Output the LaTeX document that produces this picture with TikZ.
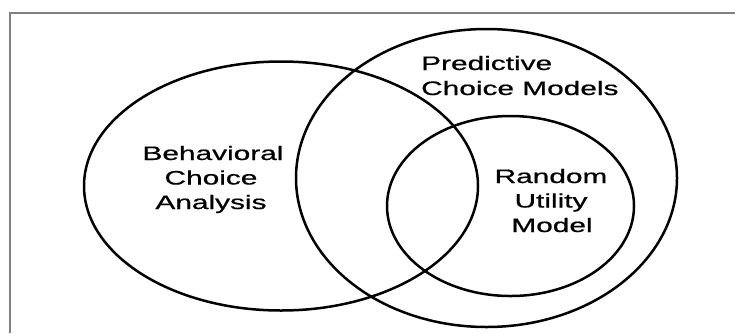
\documentclass[tikz,border=0pt]{standalone}
\usepackage{graphicx}
\usepackage{fontspec}
\setmainfont{Liberation Sans}
\newfontfamily\lblfont{Liberation Sans}[FakeBold=0.6]
\newcommand{\wtxt}[1]{\scalebox{1.53}[1]{#1}}
\begin{document}
\begin{tikzpicture}[x=1pt,y=-1pt,
  venn/.style={line width=2.5pt,draw=black},
  frameline/.style={line width=1.8pt,draw=black!50},
  lbl/.style={inner sep=0pt,anchor=base,font=\lblfont\fontsize{19.5}{24}\selectfont},
  lblw/.style={inner sep=0pt,anchor=base west,font=\lblfont\fontsize{19.5}{24}\selectfont}]
\useasboundingbox (0,0) rectangle (735,333);
% frame
\coordinate (ftr) at (735,13);
\coordinate (ftl) at (10,13);
\coordinate (fbl) at (10,333);
\draw[frameline] (ftr) -- (ftl) -- (fbl);
% ellipses
\draw[venn] (281,186) ellipse [x radius=197pt, y radius=124.5pt];
\draw[venn] (486.5,178) ellipse [x radius=190.5pt, y radius=149pt];
\draw[venn] (510.5,206) ellipse [x radius=123.5pt, y radius=90pt];
% labels
\node[lbl] (b1) at (213,160) {\wtxt{Behavioral}};
\node[lbl] (b2) at (211,184.5) {\wtxt{Choice}};
\node[lbl] (b3) at (211,209) {\wtxt{Analysis}};
\node[lblw] (p1) at (421,70) {\wtxt{Predictive}};
\node[lblw] (p2) at (421,95) {\wtxt{Choice Models}};
\node[lbl] (r1) at (551,183) {\wtxt{Random}};
\node[lbl] (r2) at (551,207.5) {\wtxt{Utility}};
\node[lbl] (r3) at (552,232) {\wtxt{Model}};
\end{tikzpicture}
\end{document}
